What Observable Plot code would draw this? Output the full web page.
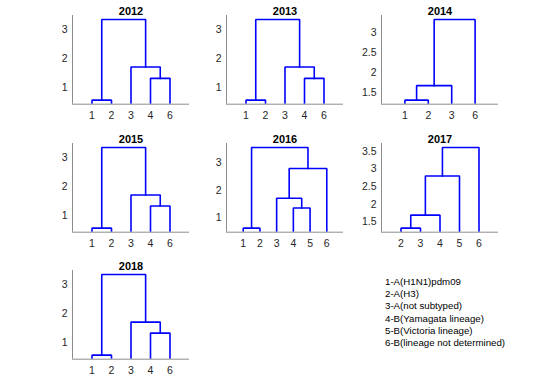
<!DOCTYPE html>
<html><head><meta charset="utf-8">
<script src="https://cdn.jsdelivr.net/npm/d3@7"></script>
<script src="https://cdn.jsdelivr.net/npm/@observablehq/plot@0.6"></script>
<style>
html,body{margin:0;padding:0;background:#fff;}
#fig{position:relative;width:550px;height:386px;overflow:hidden;font-family:"Liberation Sans",Arial,Helvetica,sans-serif;background:#fff;}
#fig svg{position:absolute;}
#legend{position:absolute;left:385px;top:276px;font-size:9.7px;line-height:12.2px;color:#000;white-space:nowrap;}
</style></head><body><div id="fig"></div>
<script>
// ---- data ----
const years = ["2012","2013","2014","2015","2016","2017","2018"];

const leaves2012 = ["1","2","3","4","6"];
const pairs2012 = [[0,1],[3,4],[2,6],[5,7]];
const heights2012 = [0.56,1.31,1.70,3.33];
const yticks2012 = [1,2,3];

const leaves2013 = ["1","2","3","4","6"];
const pairs2013 = [[0,1],[3,4],[2,6],[5,7]];
const heights2013 = [0.56,1.31,1.70,3.33];
const yticks2013 = [1,2,3];

const leaves2014 = ["1","2","3","6"];
const pairs2014 = [[0,1],[4,2],[5,3]];
const heights2014 = [1.32,1.68,3.32];
const yticks2014 = [1.5,2,2.5,3];

const leaves2015 = ["1","2","3","4","6"];
const pairs2015 = [[0,1],[3,4],[2,6],[5,7]];
const heights2015 = [0.55,1.32,1.70,3.35];
const yticks2015 = [1,2,3];

const leaves2016 = ["1","2","3","4","5","6"];
const pairs2016 = [[0,1],[3,4],[2,7],[8,5],[6,9]];
const heights2016 = [0.61,1.35,1.71,2.80,3.57];
const yticks2016 = [1,2,3];

const leaves2017 = ["2","3","4","5","6"];
const pairs2017 = [[0,1],[5,2],[6,3],[7,4]];
const heights2017 = [1.32,1.69,2.80,3.61];
const yticks2017 = [1.5,2,2.5,3,3.5];

const leaves2018 = ["1","2","3","4","6"];
const pairs2018 = [[0,1],[3,4],[2,6],[5,7]];
const heights2018 = [0.56,1.32,1.70,3.34];
const yticks2018 = [1,2,3];

const legendLabels = [
  "1-A(H1N1)pdm09",
  "2-A(H3)",
  "3-A(not subtyped)",
  "4-B(Yamagata lineage)",
  "5-B(Victoria lineage)",
  "6-B(lineage not determined)"
];

const panels = [
  [years[0], leaves2012, pairs2012, heights2012, yticks2012],
  [years[1], leaves2013, pairs2013, heights2013, yticks2013],
  [years[2], leaves2014, pairs2014, heights2014, yticks2014],
  [years[3], leaves2015, pairs2015, heights2015, yticks2015],
  [years[4], leaves2016, pairs2016, heights2016, yticks2016],
  [years[5], leaves2017, pairs2017, heights2017, yticks2017],
  [years[6], leaves2018, pairs2018, heights2018, yticks2018]
];

// ---- layout ----
const colLeft = [72.3, 225.7, 380.7];
const rowTop = [15, 142.7, 270.4];
const axisW = 117, axisH = 88.7;
const mL = 30, mR = 10, mT = 20, mB = 20;
const fontFam = '"Liberation Sans", Arial, Helvetica, sans-serif';
const fig = document.getElementById("fig");

panels.forEach(([title, leaves, pairs, heights, yticks], i) => {
  const col = i % 3, row = Math.floor(i / 3);
  const n = leaves.length;
  const xs = leaves.map((_, j) => j + 1);
  const ys = leaves.map(() => 0);
  const segs = [];
  pairs.forEach(([a, b], k) => {
    const h = heights[k];
    segs.push({k, x: xs[a], y: ys[a]}, {k, x: xs[a], y: h}, {k, x: xs[b], y: h}, {k, x: xs[b], y: ys[b]});
    xs.push((xs[a] + xs[b]) / 2);
    ys.push(h);
  });
  const mn = d3.min(heights), mx = d3.max(heights), r = mx - mn;
  const ylo = mn - 0.05 * r, yhi = mx + 0.05 * r;
  const svg = Plot.plot({
    width: axisW + mL + mR, height: axisH + mT + mB,
    marginLeft: mL, marginRight: mR, marginTop: mT, marginBottom: mB,
    x: {domain: [0, n + 1], label: null},
    y: {domain: [ylo, yhi], label: null},
    style: {fontFamily: fontFam, fontSize: "10.5px", color: "#262626", background: "transparent", overflow: "visible"},
    marks: [
      Plot.line(segs, {x: "x", y: "y", z: "k", stroke: "#0000ff", strokeWidth: 1.6, clip: true, strokeLinejoin: "miter", strokeLinecap: "square"}),
      Plot.ruleY([ylo], {stroke: "#8c8c8c", strokeWidth: 1}),
      Plot.ruleX([0], {stroke: "#8c8c8c", strokeWidth: 1}),
      Plot.axisX({ticks: d3.range(1, n + 1), tickFormat: d => leaves[d - 1], tickSize: 0, tickPadding: 7, fontSize: 10.5, label: null}),
      Plot.axisY({ticks: yticks, tickSize: 0, tickPadding: 5, fontSize: 10.5, tickFormat: d => String(d), label: null}),
      Plot.text([title], {frameAnchor: "top", dy: -8, fontWeight: "bold", fontSize: 11, fill: "#000"})
    ]
  });
  svg.style.left = (colLeft[col] - mL) + "px";
  svg.style.top = (rowTop[row] - mT) + "px";
  fig.appendChild(svg);
});

const legend = document.createElement("div");
legend.id = "legend";
legendLabels.forEach(t => {
  const d = document.createElement("div");
  d.textContent = t;
  legend.appendChild(d);
});
fig.appendChild(legend);
</script>
</body></html>
